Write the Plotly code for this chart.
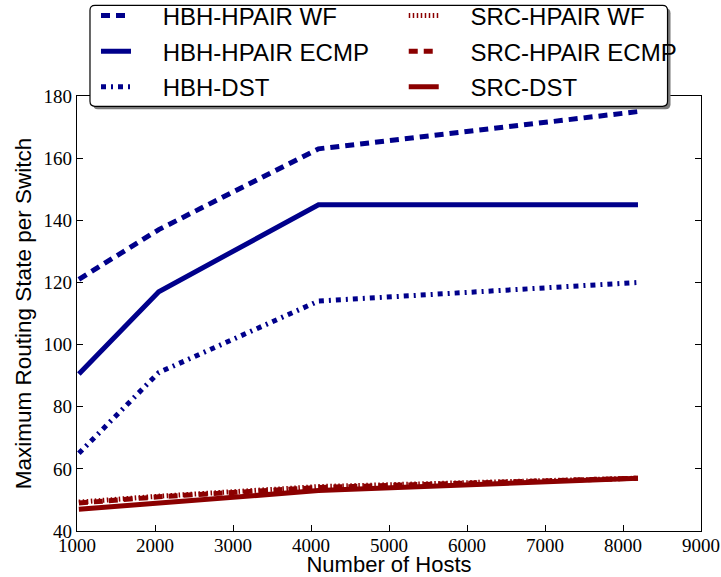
import plotly.graph_objects as go

hosts = [1024, 2048, 4096, 8192]
hbh_wf = [121, 137, 163, 175]
hbh_ecmp = [90.5, 117, 145, 145]
hbh_dst = [65, 91, 114, 120]
src_wf = [49.3, 51.2, 54.3, 57]
src_ecmp = [49, 51, 54, 57]
src_dst = [47, 49, 53, 57]

x_ticks = [1000, 2000, 3000, 4000, 5000, 6000, 7000, 8000, 9000]
y_ticks = [40, 60, 80, 100, 120, 140, 160, 180]

BLUE = "#00008B"
RED = "#8B0000"
NB = "\u00a0" * 4

series = [
    ("HBH-HPAIR WF", hbh_wf, BLUE, "9px,6px", "legend"),
    ("HBH-HPAIR ECMP", hbh_ecmp, BLUE, "solid", "legend"),
    ("HBH-DST", hbh_dst, BLUE, "5px,5px,2px,5px", "legend"),
    ("SRC-HPAIR WF", src_wf, RED, "1.5px,2.5px", "legend2"),
    ("SRC-HPAIR ECMP", src_ecmp, RED, "9px,6px", "legend2"),
    ("SRC-DST", src_dst, RED, "solid", "legend2"),
]

fig = go.Figure()
for i, (name, vals, col, dash, leg) in enumerate(series):
    fig.add_trace(go.Scatter(
        x=hosts, y=vals, mode="lines", name=NB + name,
        line=dict(color=col, width=5, dash=dash),
        legend=leg, legendgroup="g%d" % i,
    ))

W, H = 721, 577
L, R, T, B = 77, 19.5, 95.7, 46
pw, ph = W - L - R, H - T - B

def px2x(px):
    return (px - L) / pw

def px2y(py):
    return (H - B - py) / ph

def rrect(x0, y0, x1, y1, r):
    rx, ry = r / pw, r / ph
    a, b, c, d = px2x(x0), px2y(y0), px2x(x1), px2y(y1)
    return (f"M{a+rx},{b} L{c-rx},{b} Q{c},{b} {c},{b-ry} L{c},{d+ry} Q{c},{d} {c-rx},{d} "
            f"L{a+rx},{d} Q{a},{d} {a},{d+ry} L{a},{b-ry} Q{a},{b} {a+rx},{b} Z")

shapes = [
    dict(type="path", xref="paper", yref="paper", path=rrect(93, 8, 671, 109, 5),
         fillcolor="#7a7a7a", line=dict(width=0), layer="above"),
    dict(type="path", xref="paper", yref="paper", path=rrect(90, 5, 668, 106, 5),
         fillcolor="white", line=dict(color="black", width=1.2), layer="above"),
]

legfont = dict(family="Liberation Sans", size=24, color="black")
fig.update_layout(
    width=W, height=H,
    margin=dict(l=L, r=R, t=T, b=B, autoexpand=False),
    plot_bgcolor="white", paper_bgcolor="white",
    shapes=shapes,
    legend=dict(x=px2x(96), y=px2y(-7), xanchor="left", yanchor="top",
                bgcolor="rgba(0,0,0,0)", borderwidth=0, font=legfont,
                tracegroupgap=1.5, itemwidth=30),
    legend2=dict(x=px2x(404), y=px2y(-7), xanchor="left", yanchor="top",
                 bgcolor="rgba(0,0,0,0)", borderwidth=0, font=legfont,
                 tracegroupgap=1.5, itemwidth=30),
    xaxis=dict(range=[1000, 9000], tickvals=x_ticks, ticktext=[str(v) for v in x_ticks],
               ticks="inside", ticklen=6, tickcolor="black", showgrid=False, zeroline=False,
               showline=True, linecolor="black", linewidth=1.2, mirror="ticks",
               ticklabelstandoff=-3,
               tickfont=dict(family="Liberation Serif", size=19, color="black"),
               title=dict(text="Number of Hosts", standoff=0,
                          font=dict(family="Liberation Sans", size=22, color="black"))),
    yaxis=dict(range=[40, 180], tickvals=y_ticks, ticktext=[str(v) for v in y_ticks],
               ticks="inside", ticklen=6, tickcolor="black", showgrid=False, zeroline=False,
               showline=True, linecolor="black", linewidth=1.2, mirror="ticks",
               tickfont=dict(family="Liberation Serif", size=19, color="black"),
               title=dict(text="Maximum Routing State per Switch", standoff=5,
                          font=dict(family="Liberation Sans", size=22.5, color="black"))),
)
fig.write_html("out.html", config={"displayModeBar": False},
               post_script="document.body.style.margin='0';document.body.style.overflow='hidden';")
